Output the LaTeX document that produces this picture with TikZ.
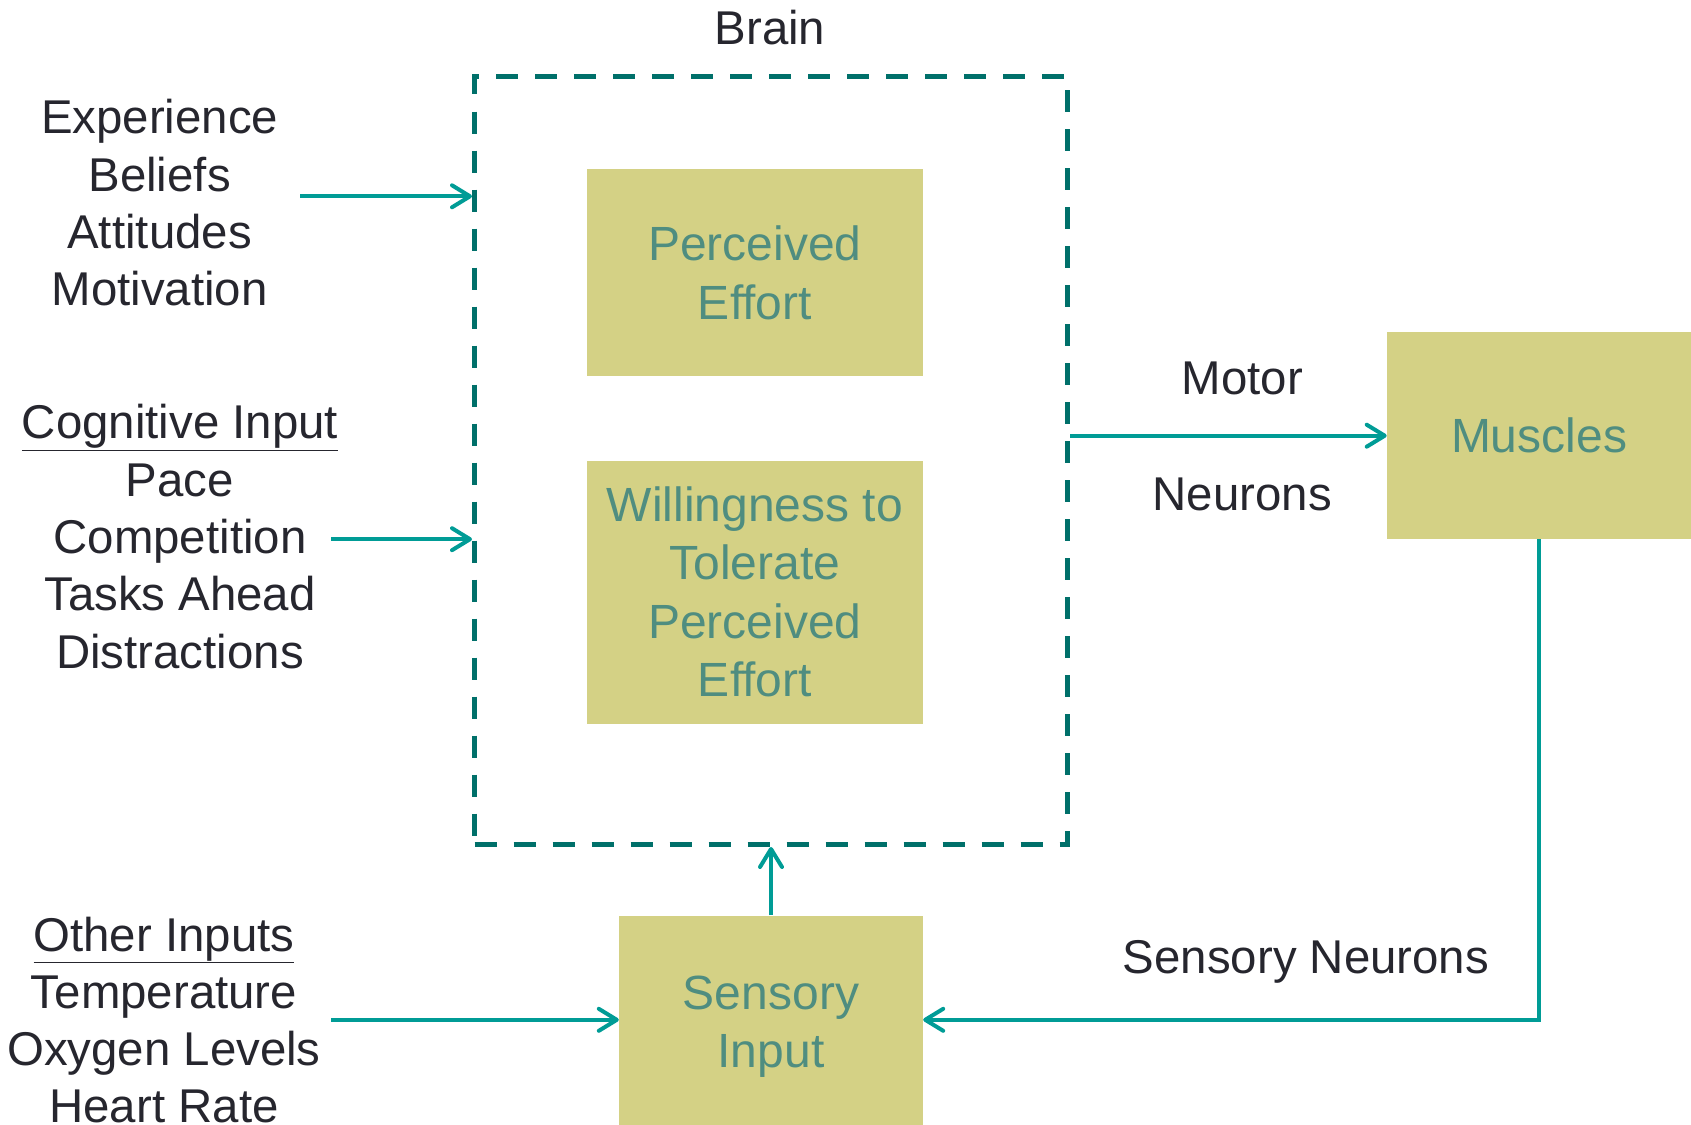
\documentclass[tikz,border=0pt]{standalone}
\usepackage{fontspec}
\setmainfont{Liberation Sans}
\usetikzlibrary{arrows.meta,calc}
\definecolor{boxfill}{HTML}{D4D185}
\definecolor{boxtext}{HTML}{4F8D80}
\definecolor{arrcol}{HTML}{009C96}
\definecolor{dashcol}{HTML}{00706A}
\definecolor{txt}{HTML}{26262E}
\tikzset{
  bigfont/.style={font=\fontsize{47.4}{57.3}\selectfont},
  boxfont/.style={font=\fontsize{48}{58.5}\selectfont},
  lbl/.style={bigfont,text=txt,align=center,inner sep=0pt},
  olivebox/.style={fill=boxfill,draw=none,boxfont,text=boxtext,align=center,inner sep=0pt},
  arr/.style={draw=arrcol,line width=4pt,-{Straight Barb[length=18pt,width=22pt,line width=4pt,round]}},
  brainstyle/.style={draw=dashcol,line width=5pt,dash pattern=on 22pt off 17pt,inner sep=0pt}
}
\begin{document}
\begin{tikzpicture}[x=1pt,y=-1pt]
\useasboundingbox (0,0) rectangle (1691,1124);
\fill[white] (0,0) rectangle (1691,1124);
\begin{scope}
\clip (0,0) rectangle (1691,1124);
% boxes
\node[brainstyle,minimum width=593pt,minimum height=768pt] (brain) at (771,460.5) {};
\node[olivebox,minimum width=336.4pt,minimum height=207pt] (pe) at (754.9,272.8) {Perceived\\Effort};
\node[olivebox,minimum width=336.4pt,minimum height=263pt] (will) at (754.9,592) {Willingness to\\Tolerate\\Perceived\\Effort};
\node[olivebox,minimum width=304.2pt,minimum height=207pt] (mus) at (1539,435.7) {Muscles};
\node[olivebox,minimum width=304pt,minimum height=222pt] (sens) at (771,1026.6) {Sensory\\Input};
% labels
\node[lbl] (brainlbl) at (770,28) {Brain};
\node[lbl] (exp) at (159.6,203) {Experience\\Beliefs\\Attitudes\\Motivation};
\node[lbl] (cog) at (180,536.5) {\underline{Cognitive Input}\\Pace\\Competition\\Tasks Ahead\\Distractions};
\node[lbl] (oth) at (164,1020) {\underline{Other Inputs}\\Temperature\\Oxygen Levels\\Heart Rate};
\node[lbl] (motor) at (1242.3,378.5) {Motor};
\node[lbl] (neur) at (1242.3,494) {Neurons};
\node[lbl] (sensn) at (1306,961.8) {Sensory Neurons};
% connectors
\coordinate (e1) at (300,196.3);
\coordinate (c1) at (331,539.2);
\coordinate (o1) at (331,1019.8);
\draw[arr] (e1) -- (e1 -| brain.west);
\draw[arr] (c1) -- (c1 -| brain.west);
\draw[arr] (brain.east |- mus.west) -- (mus.west);
\draw[arr] (sens.north) -- (sens.north |- brain.south);
\draw[arr] (o1) -- (o1 -| sens.west);
\draw[arr] (mus.south) |- (o1 -| sens.east);
\end{scope}
\end{tikzpicture}
\end{document}
